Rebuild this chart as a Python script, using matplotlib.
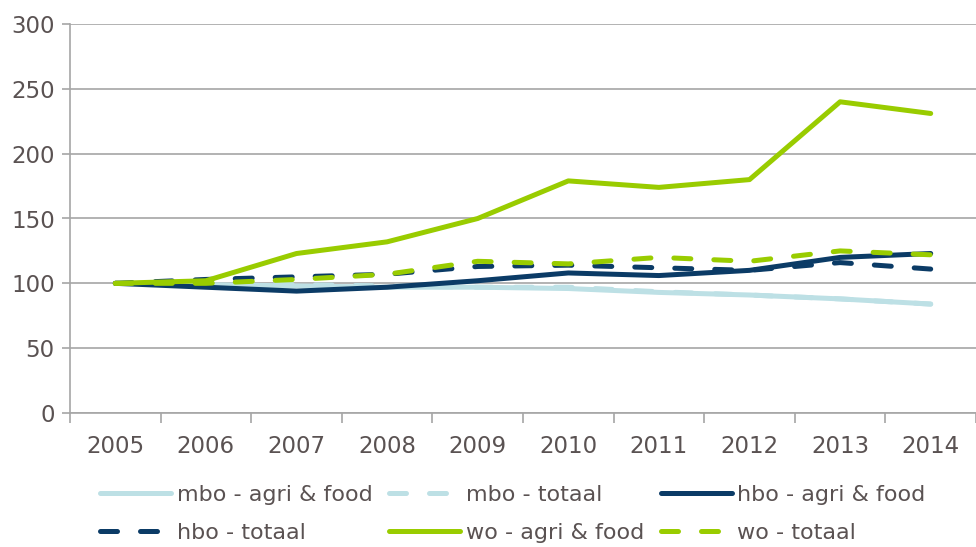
import numpy as np
import matplotlib
matplotlib.use("Agg")
import matplotlib.pyplot as plt

years = ["2005", "2006", "2007", "2008", "2009", "2010", "2011", "2012", "2013", "2014"]

mbo_agri = [100, 99, 98, 97, 97, 96, 93, 91, 88, 84]
mbo_totaal = [100, 100, 99, 98, 97, 97, 93.5, 91, 88, 84]
hbo_agri = [100, 97, 94, 97, 102, 108, 106, 110, 120, 123]
hbo_totaal = [100, 103, 105, 107, 113, 114, 112, 110, 116, 111]
wo_agri = [100, 102, 123, 132, 150, 179, 174, 180, 240, 231]
wo_totaal = [100, 100, 103, 107, 117, 115, 120, 117, 125, 122]

labels = ["mbo - agri & food", "mbo - totaal", "hbo - agri & food",
          "hbo - totaal", "wo - agri & food", "wo - totaal"]

c_light = "#bde0e5"
c_dark = "#0b3b66"
c_green = "#99cc00"
c_text = "#5a5252"
c_grid = "#a6a6a6"

fig = plt.figure(figsize=(9.76, 5.47), dpi=100)
ax = fig.add_axes([70 / 976, 1 - 413 / 547, 1 - 70 / 976, (413 - 24) / 547])

x = np.arange(len(years))
lw = 3.6
dash = (3.4, 4.6)
series = [
    (mbo_totaal, c_light, "--"),
    (mbo_agri, c_light, "-"),
    (hbo_agri, c_dark, "-"),
    (hbo_totaal, c_dark, "--"),
    (wo_agri, c_green, "-"),
    (wo_totaal, c_green, "--"),
]
handles = {}
for vals, col, ls in series:
    if ls == "--":
        h, = ax.plot(x, vals, color=col, lw=lw, dashes=dash,
                     dash_capstyle="round", solid_joinstyle="round")
    else:
        h, = ax.plot(x, vals, color=col, lw=lw, solid_capstyle="round",
                     solid_joinstyle="round")
    handles[(col, ls)] = h
hlist = [handles[(c_light, "-")], handles[(c_light, "--")], handles[(c_dark, "-")],
         handles[(c_dark, "--")], handles[(c_green, "-")], handles[(c_green, "--")]]

ax.set_ylim(0, 300)
ax.set_xlim(-0.5, 9.4)
ax.set_yticks(range(0, 301, 50))
ax.set_xticks(x)
ax.set_xticklabels(years)
ax.set_xticks(np.arange(-0.5, 9.6, 1), minor=True)
ax.yaxis.grid(True, color=c_grid, lw=1.2)
ax.set_axisbelow(True)
for s in ["top", "right"]:
    ax.spines[s].set_visible(False)
for s in ["left", "bottom"]:
    ax.spines[s].set_color(c_grid)
    ax.spines[s].set_linewidth(1.2)
ax.tick_params(axis="y", colors=c_grid, labelcolor=c_text, labelsize=16.5,
               length=6, width=1.2, pad=5)
ax.tick_params(axis="x", which="major", length=0, labelcolor=c_text,
               labelsize=16.5, pad=16)
ax.tick_params(axis="x", which="minor", length=7, width=1.2, colors=c_grid)

order = [0, 3, 1, 4, 2, 5]
leg = fig.legend([hlist[i] for i in order], [labels[i] for i in order],
                 ncol=3, loc="upper left", bbox_to_anchor=(100 / 976, 1 - 485 / 547),
                 frameon=False, fontsize=16, handlelength=3.2, handletextpad=0.25,
                 columnspacing=0.75, labelspacing=0.8, borderpad=0, borderaxespad=0)
for t in leg.get_texts():
    t.set_color(c_text)

fig.savefig("out.png", dpi=100)
